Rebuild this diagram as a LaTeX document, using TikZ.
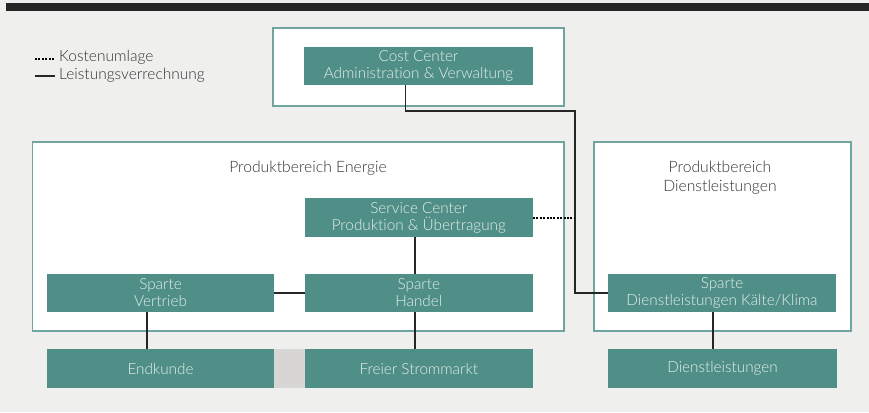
\documentclass[tikz,border=0pt]{standalone}
\usepackage{fontspec}
\setmainfont{Lato Light}[Ligatures=CommonOff]
\definecolor{paper}{HTML}{EFEFEE}
\definecolor{teal}{HTML}{4F8F88}
\definecolor{frameline}{HTML}{6FA59E}
\definecolor{boxtext}{HTML}{E6F0E8}
\definecolor{ink}{HTML}{333333}
\definecolor{wire}{HTML}{262626}
\definecolor{gapgray}{HTML}{D7D6D5}
\tikzset{
  frame/.style={draw=frameline, line width=1.1pt, fill=white, inner sep=0pt},
  unit/.style={fill=teal, text=boxtext, inner sep=0pt, minimum height=38pt,
    minimum width=228pt, align=center, font=\fontsize{15.3}{17}\selectfont},
  heading/.style={text=ink, align=center, font=\fontsize{15.7}{19}\selectfont},
  legendtext/.style={text=ink, anchor=west, inner sep=0pt, font=\fontsize{15.5}{17}\selectfont},
  solidlink/.style={draw=wire, line width=1.8pt},
  dottedlink/.style={draw=black, line width=2pt, dash pattern=on 2pt off 1.4pt},
}
\begin{document}
\begin{tikzpicture}[x=1pt,y=-1pt]
  % canvas and top rule
  \fill[paper] (0,0) rectangle (869,412);
  \useasboundingbox (0,0) rectangle (869,412);
  \fill[black!85] (6,3) rectangle (869,11);

  % legend
  \coordinate (ldotA) at (35,59);
  \coordinate (ldotB) at (55,59);
  \coordinate (lsolA) at (35,76);
  \coordinate (lsolB) at (55,76);
  \draw[dottedlink] (ldotA) -- (ldotB);
  \draw[solidlink] (lsolA) -- (lsolB);
  \node[legendtext] (lkosten) at (59,57.5) {Kostenumlage};
  \node[legendtext] (lleist) at (59,75.5) {Leistungsverrechnung};

  % area frames
  \node[frame, minimum width=291pt, minimum height=78pt] (ccframe) at (418.5,67) {};
  \node[frame, minimum width=531.5pt, minimum height=189pt] (energie) at (298.25,236.5) {};
  \node[frame, minimum width=257pt, minimum height=189pt] (dienstframe) at (722.5,236.5) {};

  \node[heading] (tenergie) at (308,168) {Produktbereich Energie};
  \node[heading] (tdienst) at (720,178) {Produktbereich\\Dienstleistungen};

  % units
  \node[unit, minimum width=229pt] (cc) at (418.5,66) {Cost Center\\Administration \& Verwaltung};
  \node[unit, minimum height=39pt] (sc) at (418.8,217.5) {Service Center\\Produktion \& Übertragung};
  \node[unit, minimum width=227pt] (vertrieb) at (160.5,293) {Sparte\\Vertrieb};
  \node[unit] (handel) at (418.8,293) {Sparte\\Handel};
  \node[unit] (kaelte) at (722,293) {Sparte\\Dienstleistungen Kälte/Klima};

  \node[unit, minimum width=227pt, minimum height=39pt] (endkunde) at (160.5,368.5) {Endkunde};
  \node[fill=gapgray, inner sep=0pt, minimum width=30.6pt, minimum height=39pt] (gap) at (289.3,368.5) {};
  \node[unit, minimum height=39pt] (strom) at (418.8,368.5) {Freier Strommarkt};
  \node[unit, minimum width=229pt, minimum height=39pt] (dienst) at (722.5,368.5) {Dienstleistungen};

  % routing points
  \coordinate (ccdown) at (405.5,110.7);
  \coordinate (ccright) at (575,110.7);
  \coordinate (handelx) at (414.6,0);
  \coordinate (vertriebx) at (147,0);
  \coordinate (kaeltex) at (713,0);

  % connectors
  \draw[solidlink] (cc.south -| ccdown) -- (ccdown) -- (ccright) |- (kaelte.west);
  \draw[dottedlink] (sc.east) -- (sc.east -| ccright);
  \draw[solidlink] (sc.south -| handelx) -- (handel.north -| handelx);
  \draw[solidlink] (vertrieb.east) -- (handel.west);
  \draw[solidlink] (vertrieb.south -| vertriebx) -- (endkunde.north -| vertriebx);
  \draw[solidlink] (handel.south -| handelx) -- (strom.north -| handelx);
  \draw[solidlink] (kaelte.south -| kaeltex) -- (dienst.north -| kaeltex);
\end{tikzpicture}
\end{document}
